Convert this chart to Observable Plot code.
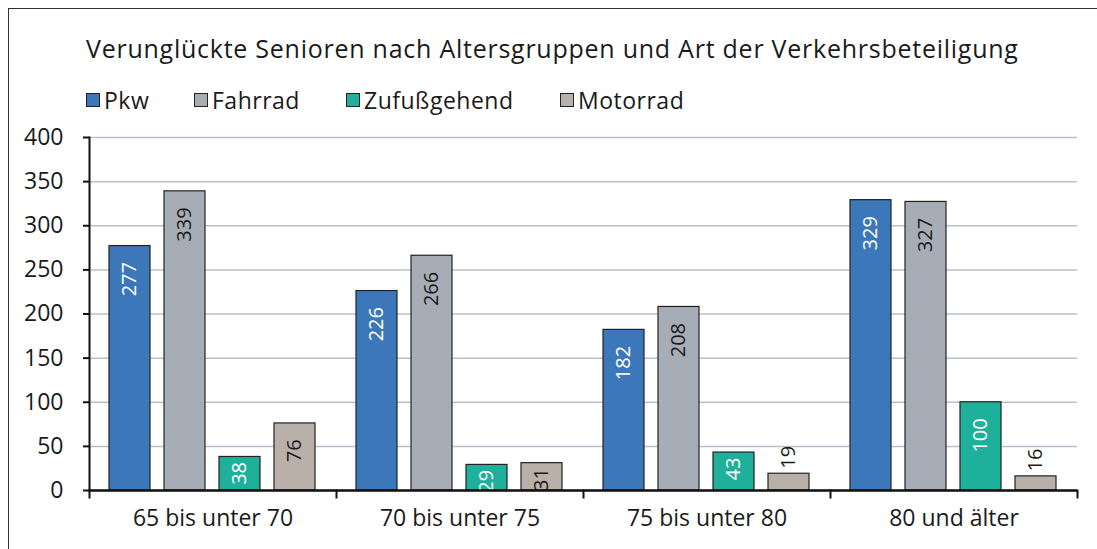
<!DOCTYPE html>
<html>
<head>
<meta charset="utf-8">
<script src="https://cdn.jsdelivr.net/npm/d3@7"></script>
<script src="https://cdn.jsdelivr.net/npm/@observablehq/plot@0.6"></script>
<style>
  html, body { margin: 0; padding: 0; background: #fff; }
  #wrap { position: relative; width: 1097px; height: 549px; overflow: hidden; font-family: "Open Sans", Lato, sans-serif; color: #1a1a1a; }
  #border { position: absolute; left: 8px; top: 8px; width: 1200px; height: 700px; border-left: 1.5px solid #333; border-top: 1.5px solid #333; }
  #title { position: absolute; left: 86px; top: 31px; font-size: 25px; letter-spacing: 0.75px; white-space: nowrap; }
  #legend { position: absolute; left: 86px; top: 86px; font-size: 23px; letter-spacing: 0.5px; height: 28px; }
  .item { position: absolute; top: 0; white-space: nowrap; display: flex; align-items: center; height: 28px; }
  .sw { width: 12px; height: 12px; border: 1px solid #222; margin-right: 4px; }
  #chart { position: absolute; left: 0; top: 120px; }
</style>
</head>
<body>
<div id="wrap">
  <div id="border"></div>
  <div id="title">Verunglückte Senioren nach Altersgruppen und Art der Verkehrsbeteiligung</div>
  <div id="legend"></div>
  <div id="chart"></div>
</div>
<script>
const groups = ["65 bis unter 70", "70 bis unter 75", "75 bis unter 80", "80 und älter"];
const series = ["Pkw", "Fahrrad", "Zufußgehend", "Motorrad"];
const colors = ["#3c78b9", "#a6adb6", "#1fb09b", "#b9b0aa"];
const pkw = [277, 226, 182, 329];
const fahrrad = [339, 266, 208, 327];
const zufuss = [38, 29, 43, 100];
const motorrad = [76, 31, 19, 16];
const yTicks = [0, 50, 100, 150, 200, 250, 300, 350, 400];
const legendX = [0, 108, 260, 474];

const seriesValues = [pkw, fahrrad, zufuss, motorrad];
const data = [];
groups.forEach((g, gi) => series.forEach((s, si) => data.push({group: g, series: s, value: seriesValues[si][gi]})));

const labelColor = d => (d.series === "Pkw" || d.series === "Zufußgehend") && d.value >= 25 ? "#ffffff" : "#1a1a1a";

const big = data.filter(d => d.value >= 50);
const mid = data.filter(d => d.value >= 25 && d.value < 50);
const small = data.filter(d => d.value < 25);

const FONT = "'Open Sans', Lato, sans-serif";
const textCommon = {fx: "group", x: "series", y: "value", rotate: -90, fontSize: 20, fill: labelColor, fontFamily: FONT};

const chart = Plot.plot({
  width: 1097,
  height: 429,
  marginTop: 17,
  marginBottom: 59,
  marginLeft: 88,
  marginRight: 19,
  style: {fontFamily: FONT, fontSize: "23px", color: "#1a1a1a", background: "transparent"},
  fx: {domain: groups, padding: 0, label: null},
  x: {domain: series, paddingInner: 0.25, paddingOuter: 0.335, axis: null},
  y: {domain: [0, 400], label: null},
  color: {domain: series, range: colors},
  marks: [
    Plot.gridY(yTicks, {stroke: "#b7c1cb", strokeOpacity: 1, strokeWidth: 1.5}),
    Plot.barY(data, {fx: "group", x: "series", y: "value", fill: "series", stroke: "#222", strokeWidth: 1.2}),
    Plot.text(big, {...textCommon, text: d => String(d.value), textAnchor: "end", dy: 16}),
    Plot.text(mid, {...textCommon, text: d => String(d.value), textAnchor: "end", dy: 5, clip: "frame"}),
    Plot.text(small, {...textCommon, text: d => String(d.value), textAnchor: "start", dy: -5}),
    Plot.ruleY([0], {stroke: "#111", strokeWidth: 2.5}),
    Plot.frame({anchor: "left", facetAnchor: "left", stroke: "#111", strokeWidth: 2}),
    Plot.frame({anchor: "left", insetTop: 353, insetBottom: -7, stroke: "#111", strokeWidth: 2}),
    Plot.frame({anchor: "right", facetAnchor: "right", insetTop: 353, insetBottom: -7, stroke: "#111", strokeWidth: 2}),
    Plot.axisY(yTicks, {tickSize: 6, tickPadding: 20, stroke: "#111", strokeWidth: 2, fontSize: 23, label: null}),
    Plot.axisFx({anchor: "bottom", tickSize: 0, tickPadding: 19, fontSize: 23, label: null})
  ]
});
document.getElementById("chart").appendChild(chart);

const legend = document.getElementById("legend");
series.forEach((s, i) => {
  const item = document.createElement("div");
  item.className = "item";
  item.style.left = legendX[i] + "px";
  const sw = document.createElement("span");
  sw.className = "sw";
  sw.style.background = colors[i];
  item.appendChild(sw);
  item.appendChild(document.createTextNode(s));
  legend.appendChild(item);
});
</script>
</body>
</html>
